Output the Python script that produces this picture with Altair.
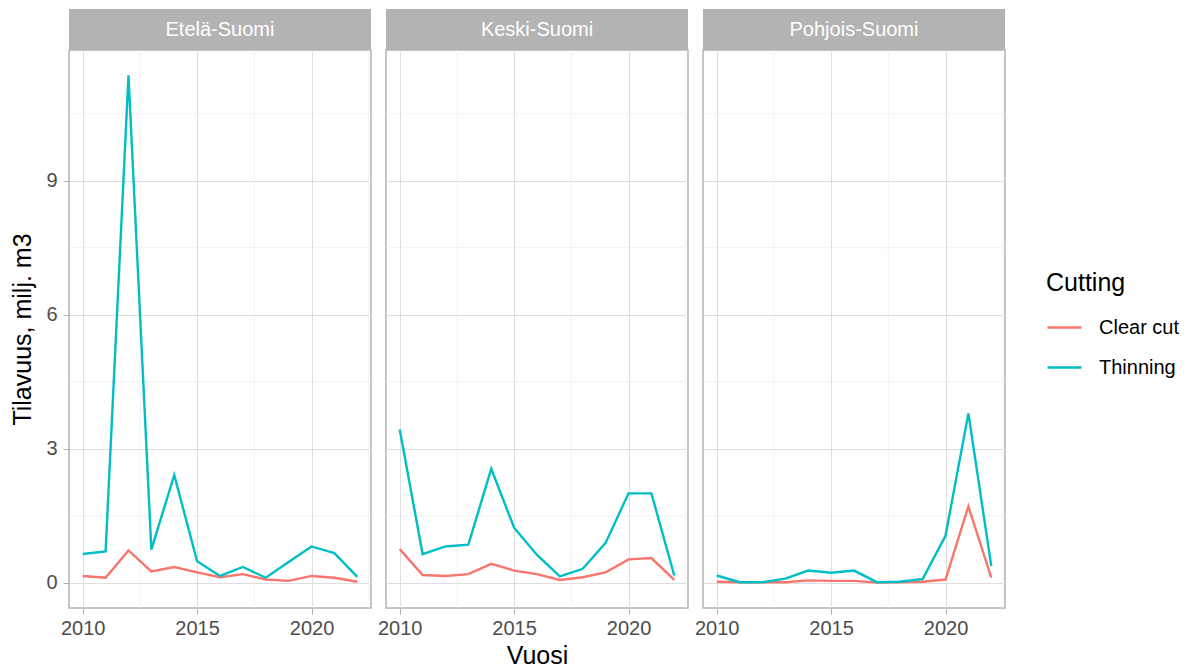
import altair as alt
import pandas as pd

years = list(range(2010, 2023))
regions = ["Etelä-Suomi", "Keski-Suomi", "Pohjois-Suomi"]
cuttings = ["Clear cut", "Thinning"]

etela_clear = [0.15, 0.11, 0.72, 0.25, 0.35, 0.23, 0.12, 0.19, 0.07, 0.04, 0.15, 0.11, 0.02]
etela_thin = [0.64, 0.70, 11.36, 0.74, 2.41, 0.48, 0.15, 0.35, 0.11, 0.46, 0.81, 0.66, 0.13]
keski_clear = [0.75, 0.17, 0.15, 0.19, 0.42, 0.27, 0.19, 0.06, 0.12, 0.23, 0.52, 0.55, 0.06]
keski_thin = [3.43, 0.64, 0.81, 0.85, 2.55, 1.23, 0.62, 0.14, 0.31, 0.89, 2.00, 2.00, 0.16]
pohjois_clear = [0.02, 0.01, 0.01, 0.01, 0.05, 0.04, 0.04, 0.00, 0.01, 0.02, 0.07, 1.71, 0.11]
pohjois_thin = [0.16, 0.01, 0.01, 0.09, 0.27, 0.22, 0.27, 0.01, 0.02, 0.08, 1.05, 3.79, 0.37]

x_ticks = [2010, 2015, 2020]
y_ticks = [0, 3, 6, 9]
minor_x = [2012.5, 2017.5, 2022.5]
minor_y = [1.5, 4.5, 7.5, 10.5]

series = {
    "Etelä-Suomi": (etela_clear, etela_thin),
    "Keski-Suomi": (keski_clear, keski_thin),
    "Pohjois-Suomi": (pohjois_clear, pohjois_thin),
}
rows = []
for region in regions:
    clear, thin = series[region]
    for yr, c, t in zip(years, clear, thin):
        rows.append({"region": region, "year": yr, "cutting": "Clear cut", "value": c})
        rows.append({"region": region, "year": yr, "cutting": "Thinning", "value": t})
df = pd.DataFrame(rows)

W, H, STRIP = 302, 558, 41
FONT = "Liberation Sans"
ymax = max(max(v[1]) for v in series.values())
ypad = ymax * 0.05
xscale = alt.Scale(domain=[2009.4, 2022.6], nice=False, zero=False)
yscale = alt.Scale(domain=[-ypad, ymax + ypad], nice=False, zero=False)
cscale = alt.Scale(domain=cuttings, range=["#F8766D", "#00BFC4"])


def panel(i, region):
    sub = df[df["region"] == region]
    xaxis = alt.Axis(values=x_ticks, format="d", title="Vuosi" if i == 1 else "",
                     grid=True, labelFlush=False)
    if i == 0:
        yaxis = alt.Axis(values=y_ticks, title="Tilavuus, milj. m3", grid=True)
    else:
        yaxis = alt.Axis(values=y_ticks, title="", labels=False, ticks=False, grid=True)

    vminor = alt.Chart(pd.DataFrame({"year": minor_x})).mark_rule(
        color="#ececec", strokeWidth=0.7
    ).encode(x=alt.X("year:Q", scale=xscale, axis=xaxis))
    hminor = alt.Chart(pd.DataFrame({"value": minor_y})).mark_rule(
        color="#ececec", strokeWidth=0.7
    ).encode(y=alt.Y("value:Q", scale=yscale, axis=yaxis))
    lines = alt.Chart(sub).mark_line(strokeWidth=2.4).encode(
        x=alt.X("year:Q", scale=xscale, axis=xaxis),
        y=alt.Y("value:Q", scale=yscale, axis=yaxis),
        color=alt.Color("cutting:N", scale=cscale, title="Cutting"),
    )
    strip = alt.Chart(pd.DataFrame({"region": [region]})).mark_rect(color="#b3b3b3").encode(
        x=alt.value(0), x2=alt.value(W), y=alt.value(-STRIP), y2=alt.value(0)
    )
    label = alt.Chart(pd.DataFrame({"region": [region]})).mark_text(
        color="white", fontSize=20, font=FONT, baseline="middle", align="center"
    ).encode(text="region:N", x=alt.value(W / 2), y=alt.value(-STRIP / 2))
    return alt.layer(vminor, hminor, lines, strip, label).properties(width=W, height=H)


chart = alt.hconcat(*[panel(i, r) for i, r in enumerate(regions)], spacing=15, bounds="flush")
chart = chart.configure_view(
    stroke="#b3b3b3", strokeWidth=1.5
).configure_axis(
    domain=False,
    gridColor="#dedede", gridWidth=1,
    tickColor="#b3b3b3", tickSize=6, tickWidth=1,
    labelColor="#4d4d4d", labelFontSize=20, labelFont=FONT,
    titleColor="black", titleFontSize=25, titleFont=FONT, titleFontWeight="normal",
).configure_axisX(titlePadding=5, labelPadding=4).configure_axisY(
    titlePadding=10, labelPadding=6
).configure_legend(
    orient="none", legendX=977, legendY=221,
    titleFontSize=25, titleFont=FONT, titleFontWeight="normal", titleColor="black", titlePadding=13,
    labelFontSize=20, labelFont=FONT, labelColor="black", labelOffset=16,
    symbolType="stroke", symbolSize=1156, symbolStrokeWidth=2.5, rowPadding=11,
).properties(padding={"left": 2, "top": 0, "right": 0, "bottom": 0})

chart.save("out.html", embed_options={"renderer": "svg", "actions": False})
